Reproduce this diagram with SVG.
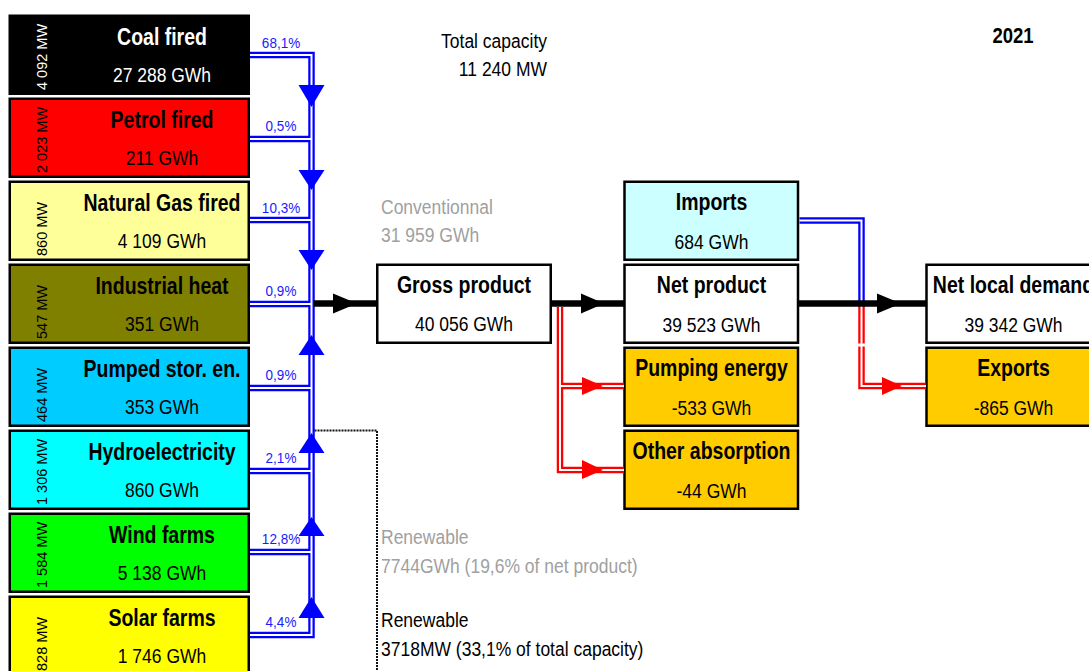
<svg xmlns="http://www.w3.org/2000/svg" width="1089" height="671" viewBox="0 0 1089 671">
<style>
text{font-family:"Liberation Sans",Arial,Helvetica,sans-serif}
.box{stroke:#000;stroke-width:2.5}
.ttl{font-weight:bold;font-size:19.5px;text-anchor:middle}
.val{font-size:17.5px;text-anchor:middle}
.mw{font-size:14.5px}
.pct{font-size:13.5px;fill:#1a1aff;text-anchor:middle}
.free{font-size:17.5px}
.gray{fill:#a0a0a0}
.bo{stroke:#0000ff;stroke-width:6.5;fill:none}
.ro{stroke:#ff0000;stroke-width:6.5;fill:none}
.wi{stroke:#fff;stroke-width:2;fill:none}
.blk{stroke:#000;stroke-width:6.5;fill:none}
.ab{fill:#0000ff}
.ar{fill:#ff0000}
.ak{fill:#000}
</style>
<rect width="1089" height="671" fill="#fff"/>

<g id="coal">
<rect class="box" x="9.75" y="15.75" width="239" height="78" fill="#000"/>
<text class="mw" fill="#fff" transform="translate(47,90) rotate(-90)">4 092 MW</text>
<text class="ttl" fill="#fff" transform="translate(162,44.5) scale(1,1.2)">Coal fired</text>
<text class="val" fill="#fff" transform="translate(162,82) scale(1,1.15)">27 288 GWh</text>
</g>
<g id="petrol">
<rect class="box" x="9.75" y="98.75" width="239" height="78" fill="#ff0000"/>
<text class="mw" transform="translate(47,173) rotate(-90)">2 023 MW</text>
<text class="ttl" transform="translate(162,127.5) scale(1,1.2)">Petrol fired</text>
<text class="val" transform="translate(162,165) scale(1,1.15)">211 GWh</text>
</g>
<g id="gas">
<rect class="box" x="9.75" y="181.75" width="239" height="78" fill="#ffff99"/>
<text class="mw" transform="translate(47,256) rotate(-90)">860 MW</text>
<text class="ttl" transform="translate(162,210.5) scale(1,1.2)">Natural Gas fired</text>
<text class="val" transform="translate(162,248) scale(1,1.15)">4 109 GWh</text>
</g>
<g id="industrial">
<rect class="box" x="9.75" y="264.75" width="239" height="78" fill="#808000"/>
<text class="mw" transform="translate(47,339) rotate(-90)">547 MW</text>
<text class="ttl" transform="translate(162,293.5) scale(1,1.2)">Industrial heat</text>
<text class="val" transform="translate(162,331) scale(1,1.15)">351 GWh</text>
</g>
<g id="pumped">
<rect class="box" x="9.75" y="347.75" width="239" height="78" fill="#00ccff"/>
<text class="mw" transform="translate(47,422) rotate(-90)">464 MW</text>
<text class="ttl" transform="translate(162,376.5) scale(1,1.2)">Pumped stor. en.</text>
<text class="val" transform="translate(162,414) scale(1,1.15)">353 GWh</text>
</g>
<g id="hydro">
<rect class="box" x="9.75" y="430.75" width="239" height="78" fill="#00ffff"/>
<text class="mw" transform="translate(47,505) rotate(-90)">1 306 MW</text>
<text class="ttl" transform="translate(162,459.5) scale(1,1.2)">Hydroelectricity</text>
<text class="val" transform="translate(162,497) scale(1,1.15)">860 GWh</text>
</g>
<g id="wind">
<rect class="box" x="9.75" y="513.75" width="239" height="78" fill="#00ff00"/>
<text class="mw" transform="translate(47,588) rotate(-90)">1 584 MW</text>
<text class="ttl" transform="translate(162,542.5) scale(1,1.2)">Wind farms</text>
<text class="val" transform="translate(162,580) scale(1,1.15)">5 138 GWh</text>
</g>
<g id="solar">
<rect class="box" x="9.75" y="596.75" width="239" height="78" fill="#ffff00"/>
<text class="mw" transform="translate(47,671) rotate(-90)">828 MW</text>
<text class="ttl" transform="translate(162,625.5) scale(1,1.2)">Solar farms</text>
<text class="val" transform="translate(162,663) scale(1,1.15)">1 746 GWh</text>
</g>

<g id="gross">
<rect class="box" x="377.25" y="264.75" width="173.5" height="78" fill="#fff"/>
<text class="ttl" transform="translate(464,292.5) scale(1,1.2)">Gross product</text>
<text class="val" transform="translate(464,331) scale(1,1.15)">40 056 GWh</text>
</g>
<g id="imports">
<rect class="box" x="624.5" y="181.75" width="173.5" height="78" fill="#ccffff"/>
<text class="ttl" transform="translate(711.5,210) scale(1,1.2)">Imports</text>
<text class="val" transform="translate(711.5,248.5) scale(1,1.15)">684 GWh</text>
</g>
<g id="net">
<rect class="box" x="624.5" y="264.75" width="173.5" height="78" fill="#fff"/>
<text class="ttl" transform="translate(711.5,293) scale(1,1.2)">Net product</text>
<text class="val" transform="translate(711.5,331.5) scale(1,1.15)">39 523 GWh</text>
</g>
<g id="pumping">
<rect class="box" x="624.5" y="347.75" width="173.5" height="78" fill="#ffcc00"/>
<text class="ttl" transform="translate(711.5,376) scale(1,1.2)">Pumping energy</text>
<text class="val" transform="translate(711.5,414.5) scale(1,1.15)">-533 GWh</text>
</g>
<g id="other">
<rect class="box" x="624.5" y="430.75" width="173.5" height="78" fill="#ffcc00"/>
<text class="ttl" transform="translate(711.5,459) scale(1,1.2)">Other absorption</text>
<text class="val" transform="translate(711.5,497.5) scale(1,1.15)">-44 GWh</text>
</g>
<g id="demand">
<rect class="box" x="926.5" y="264.75" width="175" height="78" fill="#fff"/>
<text class="ttl" transform="translate(1013.5,293) scale(1,1.2)">Net local demand</text>
<text class="val" transform="translate(1013.5,331.5) scale(1,1.15)">39 342 GWh</text>
</g>
<g id="exports">
<rect class="box" x="926.5" y="347.75" width="175" height="78" fill="#ffcc00"/>
<text class="ttl" transform="translate(1013.5,376) scale(1,1.2)">Exports</text>
<text class="val" transform="translate(1013.5,414.5) scale(1,1.15)">-865 GWh</text>
</g>

<g id="connectors">
<path class="bo" d="M250,55 H311.5 V635 H250 M250,139 H311.5 M250,220 H311.5 M250,304 H311.5 M250,388 H311.5 M250,471 H311.5 M250,552 H311.5"/>
<path class="bo" d="M799.5,220.5 H861.5 V307"/>
<path class="ro" d="M560,307 V470 H624 M560,386 H624"/>
<path class="ro" d="M861.5,306 V386 H926"/>
<path class="wi" d="M250,55 H311.5 V635 H250 M250,139 H311.5 M250,220 H311.5 M250,304 H311.5 M250,388 H311.5 M250,471 H311.5 M250,552 H311.5"/>
<path class="wi" d="M799.5,220.5 H861.5 V386 H926"/>
<path class="wi" d="M560,307 V470 H624 M560,386 H624"/>
<rect x="856" y="343.5" width="11" height="3" fill="#fff"/>
<path class="blk" d="M314,303.5 H377 M551,303.5 H624 M799,303.5 H926"/>
<polygon class="ak" points="333,293.5 357,303.5 333,313.5"/>
<polygon class="ak" points="581,293.5 604,303.5 581,313.5"/>
<polygon class="ak" points="877,293.5 901,303.5 877,313.5"/>
<polygon class="ab" points="298.5,85 324.5,85 311.5,107"/>
<polygon class="ab" points="298.5,170 324.5,170 311.5,190"/>
<polygon class="ab" points="298.5,250 324.5,250 311.5,270"/>
<polygon class="ab" points="311.5,335 324.5,355 298.5,355"/>
<polygon class="ab" points="311.5,433 324.5,453 298.5,453"/>
<polygon class="ab" points="311.5,517 324.5,536 298.5,536"/>
<polygon class="ab" points="311.5,597 324.5,618 298.5,618"/>
<polygon class="ar" points="582,377 603,386 582,395"/>
<polygon class="ar" points="582,460 603,470 582,479"/>
<polygon class="ar" points="882,377 902,386 882,395"/>
<path d="M314.5,430.5 H377 V671" fill="none" stroke="#111" stroke-width="2" stroke-dasharray="2 1"/>
</g>

<g id="labels">
<text class="pct" transform="translate(281,48) scale(1,1.1)">68,1%</text>
<text class="pct" transform="translate(281,131) scale(1,1.1)">0,5%</text>
<text class="pct" transform="translate(281,213) scale(1,1.1)">10,3%</text>
<text class="pct" transform="translate(281,296) scale(1,1.1)">0,9%</text>
<text class="pct" transform="translate(281,380) scale(1,1.1)">0,9%</text>
<text class="pct" transform="translate(281,463) scale(1,1.1)">2,1%</text>
<text class="pct" transform="translate(281,544) scale(1,1.1)">12,8%</text>
<text class="pct" transform="translate(281,627) scale(1,1.1)">4,4%</text>
<text class="free" text-anchor="end" transform="translate(547,47.5) scale(1,1.15)">Total capacity</text>
<text class="free" text-anchor="end" transform="translate(547,75.5) scale(1,1.15)">11 240 MW</text>
<text class="ttl" style="font-size:18.5px" transform="translate(1013,43) scale(1,1.2)">2021</text>
<text class="free gray" transform="translate(381,214) scale(1,1.15)">Conventionnal</text>
<text class="free gray" transform="translate(381,242) scale(1,1.15)">31 959 GWh</text>
<text class="free gray" transform="translate(381,544) scale(1,1.15)">Renewable</text>
<text class="free gray" transform="translate(381,573) scale(1,1.15)">7744GWh (19,6% of net product)</text>
<text class="free" transform="translate(381,627) scale(1,1.15)">Renewable</text>
<text class="free" transform="translate(381,656) scale(1,1.15)">3718MW (33,1% of total capacity)</text>
</g>
</svg>
